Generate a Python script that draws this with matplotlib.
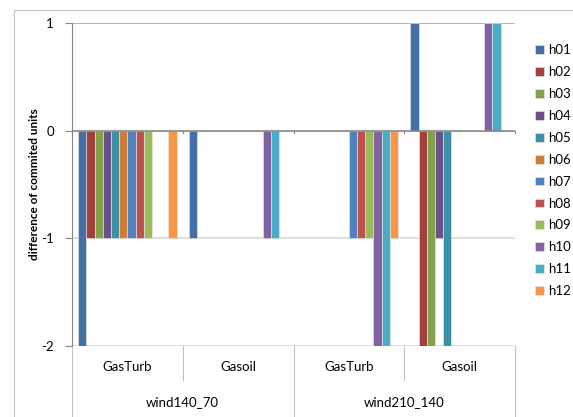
import matplotlib.pyplot as plt
import numpy as np
from matplotlib.lines import Line2D
from matplotlib.patches import Rectangle
from matplotlib.transforms import blended_transform_factory

plt.rcParams['font.family'] = ['Lato', 'DejaVu Sans']

# categories: (fuel, scenario)
fuels = ["GasTurb", "Gasoil", "GasTurb", "Gasoil"]
scenarios = ["wind140_70", "wind210_140"]
series = ["h01", "h02", "h03", "h04", "h05", "h06",
          "h07", "h08", "h09", "h10", "h11", "h12"]

# one row per hour, one value per category
h01 = [-2, -1, 0, 1]
h02 = [-1, 0, 0, -2]
h03 = [-1, 0, 0, -2]
h04 = [-1, 0, 0, -1]
h05 = [-1, 0, 0, -2]
h06 = [-1, 0, 0, 0]
h07 = [-1, 0, -1, 0]
h08 = [-1, 0, -1, 0]
h09 = [-1, 0, -1, 0]
h10 = [0, -1, -2, 1]
h11 = [0, -1, -2, 1]
h12 = [-1, 0, -1, 0]
values = [h01, h02, h03, h04, h05, h06, h07, h08, h09, h10, h11, h12]

colors = ["#4470A5", "#A0403D", "#85A04A", "#6A5087", "#3D8FA5", "#D07E36",
          "#4F81BD", "#C0504D", "#9BBB59", "#8064A2", "#4BACC6", "#F79646"]

fig = plt.figure(figsize=(5.73, 4.17), dpi=100)
ax = fig.add_axes([72 / 573, 1 - 346 / 417, (515 - 72) / 573, (346 - 23) / 417])

# outer chart frame
fig.patches.append(Rectangle((14 / 573, -0.01), 0.99, 1 - 10 / 417 + 0.01,
                             transform=fig.transFigure, fill=False,
                             edgecolor="#BFBFBF", linewidth=0.8))

x = np.arange(len(fuels))
w = 1 / 13.5
for i, (name, vals) in enumerate(zip(series, values)):
    ax.bar(x + (i - 5.5) * w, vals, width=w, color=colors[i],
           edgecolor="#E8ECF2", linewidth=0.4, label=name, zorder=3)

ax.set_xlim(-0.5, len(fuels) - 0.5)
ax.set_ylim(-2, 1)
ax.set_yticks([1, 0, -1, -2])
ax.set_yticklabels(["1", "0", "-1", "-2"])
ax.tick_params(axis="y", length=5, color="#868686", labelsize=9.5, pad=8)
ax.set_xticks([])

for y in [-1, -2]:
    ax.axhline(y, color="#D9D9D9", linewidth=1.2, zorder=1)
ax.axhline(1, color="#A6A6A6", linewidth=1.2, zorder=1)
ax.axhline(0, color="#868686", linewidth=1.2, zorder=4)

for s in ["top", "right", "bottom"]:
    ax.spines[s].set_visible(False)
ax.spines["left"].set_color("#868686")

# small ticks on category axis at the zero line
for b in np.arange(-0.5, len(fuels), 1.0):
    ax.plot([b, b], [0, -0.025], color="#868686", linewidth=0.8, zorder=4,
            clip_on=False)

ax.set_ylabel("difference of commited units", fontsize=8.5, fontweight="bold",
              labelpad=1)

# multi-level category labels
tr = blended_transform_factory(ax.transData, ax.transAxes)
for xi, f in zip(x, fuels):
    ax.text(xi, -0.065, f, transform=tr, ha="center", va="center", fontsize=9.5)
for k, s in enumerate(scenarios):
    ax.text(2 * k + 0.5, -0.175, s, transform=tr, ha="center", va="center",
            fontsize=9.5)

for b in np.arange(-0.5, len(fuels), 1.0):
    full = (b + 0.5) % 2 == 0
    y1 = -0.25 if full else -0.105
    ax.add_line(Line2D([b, b], [0, y1], transform=tr, color="#BFBFBF",
                       linewidth=0.8, clip_on=False))

fig.legend(loc="upper left", bbox_to_anchor=(530 / 573, 1 - 39 / 417),
           frameon=False, fontsize=9.5, handlelength=0.65, handleheight=0.65,
           handletextpad=0.3, labelspacing=0.75, borderaxespad=0)

fig.savefig("out.png", dpi=100)
